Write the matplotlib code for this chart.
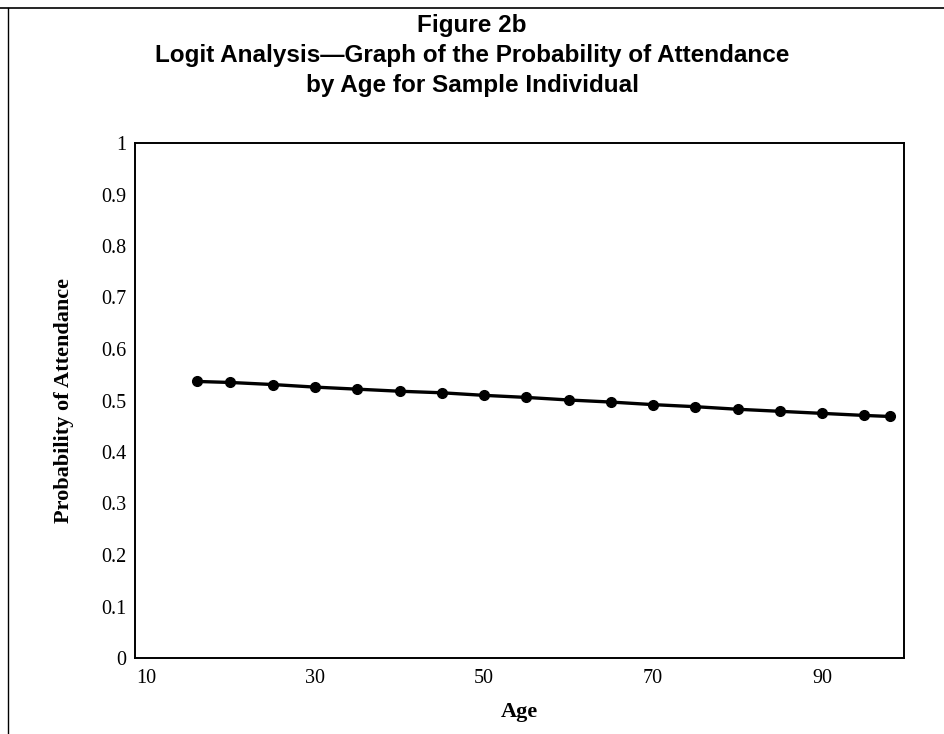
import matplotlib
matplotlib.use("Agg")
import matplotlib.pyplot as plt
from matplotlib.lines import Line2D

# values
ages = [16, 20, 25, 30, 35, 40, 45, 50, 55, 60, 65, 70, 75, 80, 85, 90, 95, 98]
prob = [0.537, 0.535, 0.531, 0.526, 0.522, 0.518, 0.515, 0.510, 0.506,
        0.501, 0.497, 0.492, 0.488, 0.483, 0.479, 0.475, 0.471, 0.469]
x_ticks = [10, 30, 50, 70, 90]
y_ticks = [0, 0.1, 0.2, 0.3, 0.4, 0.5, 0.6, 0.7, 0.8, 0.9, 1]
y_labels = ["0", "0.1", "0.2", "0.3", "0.4", "0.5", "0.6", "0.7", "0.8", "0.9", "1"]

title = ("Figure 2b\n"
         "Logit Analysis\u2014Graph of the Probability of Attendance\n"
         "by Age for Sample Individual")

serif = ["Liberation Serif", "DejaVu Serif"]
sans = ["Liberation Sans Narrow", "Liberation Sans", "DejaVu Sans"]

fig = plt.figure(figsize=(9.44, 7.34), dpi=100)
ax = fig.add_axes([135 / 944, 1 - 658 / 734, (904 - 135) / 944, (658 - 143) / 734])

ax.plot(ages, prob, color="black", linewidth=2.4, marker="o", markersize=7)

ax.set_xlim(8.7, 99.7)
ax.set_ylim(0, 1)
ax.set_xticks(x_ticks)
ax.set_xticklabels([str(t) for t in x_ticks], family=serif, fontsize=14.5)
ax.set_yticks(y_ticks)
ax.set_yticklabels(y_labels, family=serif, fontsize=14.5)
ax.tick_params(axis="x", length=0, pad=8)
ax.tick_params(axis="y", length=0, pad=6)

for s in ax.spines.values():
    s.set_linewidth(1.4)
    s.set_color("black")

ax.set_xlabel("Age", family=serif, fontsize=16, fontweight="bold", labelpad=10)
ax.set_ylabel("Probability of Attendance", family=serif, fontsize=16,
              fontweight="bold", labelpad=20)

fig.text(0.5, 1 - 14 / 734, title, ha="center", va="top", family=sans,
         fontsize=17.5, fontweight="bold", linespacing=1.4)

# scan frame remnants (top and left edge)
fig.add_artist(Line2D([0, 1], [1 - 8 / 734, 1 - 8 / 734], color="black", lw=1.2))
fig.add_artist(Line2D([8 / 944, 8 / 944], [0, 1 - 8 / 734], color="black", lw=1.0))

fig.savefig("out.png", dpi=100)
